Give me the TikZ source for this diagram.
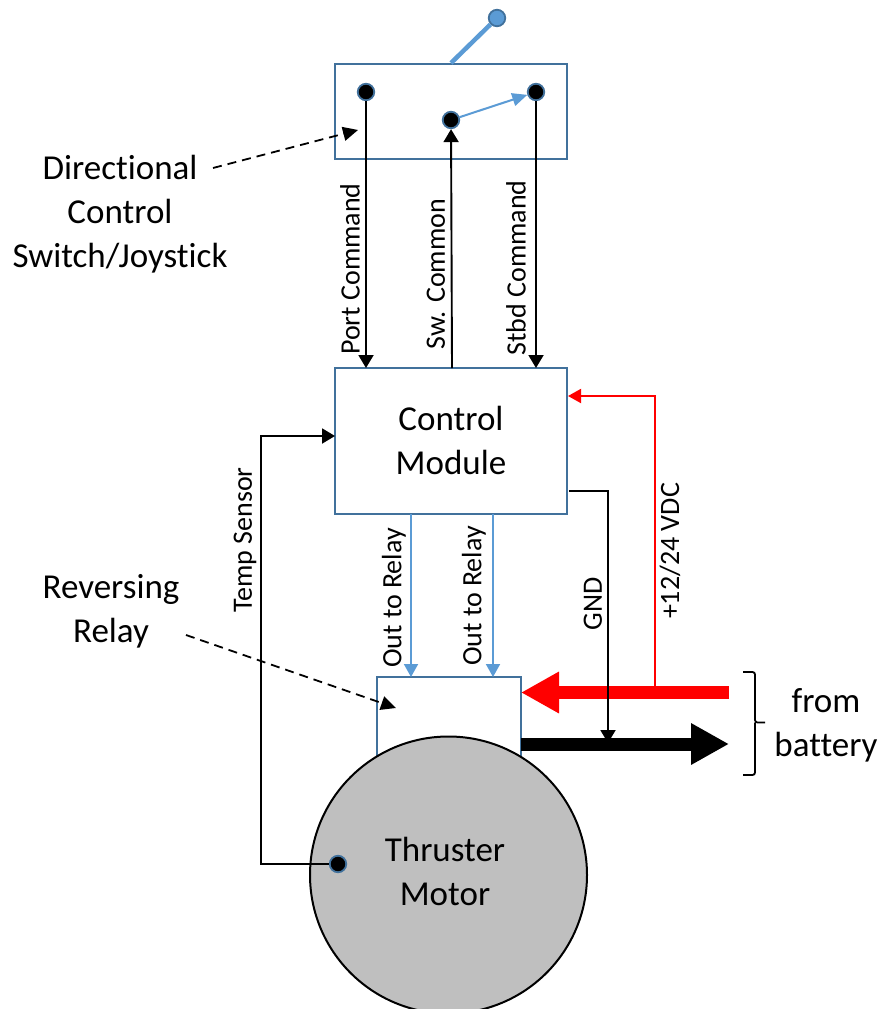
\documentclass[tikz,border=0pt]{standalone}
\usepackage{fontspec}
\setmainfont[Ligatures=NoCommon,Contextuals=NoAlternate]{Carlito}
\usetikzlibrary{arrows.meta}
\definecolor{boxblue}{HTML}{41719C}
\definecolor{wireblue}{HTML}{5B9BD5}
\definecolor{motorgray}{HTML}{BFBFBF}
\tikzset{
  x=1pt,y=-1pt,
  boxnode/.style={draw=boxblue,line width=2.1pt,fill=white,inner sep=0pt,outer sep=0pt,minimum width=#1,anchor=north west},
  term/.style={circle,draw=boxblue,line width=1.8pt,fill=black,minimum size=16.5pt,inner sep=0pt},
  big/.style={font=\fontsize{35}{44}\selectfont,align=center,inner sep=0pt},
  small/.style={font=\fontsize{28}{30}\selectfont,rotate=90,inner sep=0pt},
  wire/.style={line width=1.9pt,-{Triangle[length=13pt,width=15pt]}},
  leader/.style={line width=1.8pt,dash pattern=on 9pt off 6pt,-{Triangle[length=15pt,width=14pt]}},
  power/.style={line width=13pt,-{Triangle[length=38pt,width=39pt]}}
}
\begin{document}
\begin{tikzpicture}
\useasboundingbox (0,0) rectangle (883,1009);
% switch
\node[boxnode=232pt,minimum height=95pt] (sw) at (335,64) {};
\coordinate (togbase) at (451,63);
\node[circle,draw=boxblue,line width=1.8pt,fill=wireblue,minimum size=16.5pt,inner sep=0pt] (ball) at (497,18) {};
\draw[wireblue,line width=4.5pt] (togbase) -- (ball);
% control
\node[boxnode=232pt,minimum height=146pt] (ctl) at (335,368) {};
\node[big] (ctltext) at (451,440) {Control\\Module};
% relay
\node[boxnode=144pt,minimum height=90pt] (rly) at (377,677) {};
% terminals
\node[term] (tp) at (366,92) {};
\node[term] (tc) at (451,120) {};
\node[term] (ts) at (536,92) {};
\coordinate (cp) at (366,368);
\coordinate (cc) at (452,368);
\coordinate (cs) at (536,368);
\draw[wire] (tp) -- (cp);
\draw[wire] (cc) -- (tc);
\draw[wire] (ts) -- (cs);
\draw[line width=2pt,wireblue,-{Triangle[length=15pt,width=13pt]}] (tc) -- (ts);
% relay outputs
\coordinate (o1a) at (411,514); \coordinate (o1b) at (411,677);
\coordinate (o2a) at (493,514); \coordinate (o2b) at (493,677);
\draw[line width=1.9pt,wireblue,-{Triangle[length=13pt,width=14pt]}] (o1a) -- (o1b);
\draw[line width=1.9pt,wireblue,-{Triangle[length=13pt,width=14pt]}] (o2a) -- (o2b);
% power arrows
\coordinate (redS) at (729,692.5); \coordinate (redE) at (521,692.5);
\coordinate (blkS) at (521,744); \coordinate (blkE) at (729,744);
\draw[power,red] (redS) -- (redE);
\draw[power,black] (blkS) -- (blkE);
% +12/24
\coordinate (rj) at (655,692); \coordinate (rc) at (655,396); \coordinate (rt) at (568,396);
\draw[line width=1.9pt,red,-{Triangle[length=13pt,width=14pt]}] (rj) -- (rc) -- (rt);
% GND
\coordinate (ga) at (569,491); \coordinate (gb) at (608,491); \coordinate (gc) at (608,743);
\draw[wire] (ga) -- (gb) -- (gc);
% motor
\node[circle,draw=black,line width=2pt,fill=motorgray,minimum size=277pt,inner sep=0pt] (motor) at (448.5,875) {};
\node[big] (motortext) at (445,871) {Thruster\\Motor};
\node[term] (tt) at (338,864) {};
\coordinate (t1) at (261,864); \coordinate (t2) at (261,436); \coordinate (t3) at (335,436);
\draw[wire] (tt) -- (t1) -- (t2) -- (t3);
% labels
\node[small] (lp) at (350,269) {Port Command};
\node[small] (lc) at (436,274) {Sw. Common};
\node[small] (ls) at (516,268) {Stbd Command};
\node[small] (lt) at (245,540) {Temp Sensor};
\node[small] (lo1) at (394,598) {Out to Relay};
\node[small] (lo2) at (474,596) {Out to Relay};
\node[small] (lg) at (593,604) {GND};
\node[small] (lv) at (670,551) {+12/24 VDC};
\node[big] (dcs) at (120,214) {Directional\\Control\\Switch/Joystick};
\node[big] (rr) at (111,611.5) {Reversing\\Relay};
\node[big] (fb) at (826,725) {from\\battery};
% leaders
\coordinate (d1) at (213,168); \coordinate (d2) at (358,130);
\coordinate (r1) at (186,635); \coordinate (r2) at (396,708);
\draw[leader] (d1) -- (d2);
\draw[leader] (r1) -- (r2);
% brace
\coordinate (ba) at (743,672); \coordinate (bb) at (743,775); \coordinate (bt) at (765,722.5);
\draw[line width=1.8pt,rounded corners=2.5pt] (ba) -| (755,722.5) -- (bt) (755,722.5) |- (bb);
\end{tikzpicture}
\end{document}
